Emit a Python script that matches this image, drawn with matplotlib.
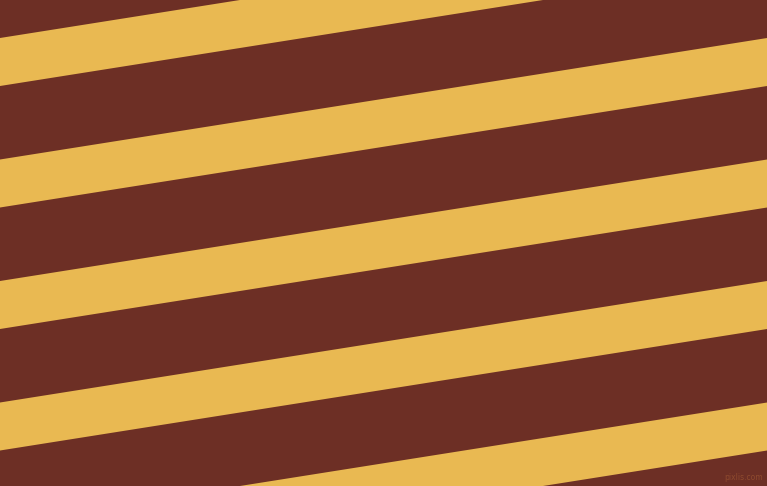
import numpy as np
import matplotlib
matplotlib.use("Agg")
import matplotlib.pyplot as plt

# Pattern data
stripe_starts = [-83.5, 38.0, 159.5, 281.0, 402.5, 524.0]  # top edge of each band at left edge (px)
band_height = 48.0          # vertical thickness of each yellow band (px)
angle_deg = 9.0             # band tilt, rising to the right
bg_color = "#6D2F25"
band_color = "#E9B952"
credit = "pixlis.com"

W, H = 767, 486
fig = plt.figure(figsize=(W / 100, H / 100), dpi=100)
ax = fig.add_axes([0, 0, 1, 1])
ax.set_xlim(0, W)
ax.set_ylim(H, 0)
ax.axis("off")
fig.patch.set_facecolor(bg_color)
ax.set_facecolor(bg_color)

slope = np.tan(np.radians(angle_deg))
x = np.linspace(0, W, 200)
for s in stripe_starts:
    top = s - slope * x
    ax.fill_between(x, top, top + band_height, color=band_color, linewidth=0)

ax.text(W - 4, H - 4, credit, ha="right", va="bottom", fontsize=5.5,
        color="#8E4A2E", family="DejaVu Sans")

fig.savefig("out.png", dpi=100, facecolor=bg_color)
